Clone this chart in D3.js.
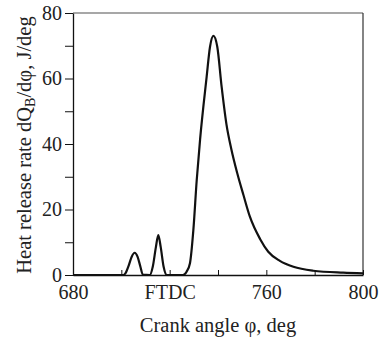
<!DOCTYPE html>
<html>
<head>
<meta charset="utf-8">
<script src="https://cdn.jsdelivr.net/npm/d3@7"></script>
<style>
  body { margin: 0; background: #fff; }
  text { font-family: "Liberation Serif", "DejaVu Serif", serif; fill: #222; }
</style>
</head>
<body>
<div id="chart"></div>
<script>
// crank angle (deg) and heat release rate (J/deg)
const angle = [680, 700.8, 701.6, 703, 704.3, 705.5, 706.7, 707.8, 708.9,
  711.8, 713, 714.3, 715.3, 716.3, 717.5, 718.8,
  725.5, 727, 728.4, 729.8, 731.2, 732.6, 735.3, 736.7, 738.1, 739.7, 741.5,
  743.5, 745.5, 748, 750.5, 753.2, 757.4, 760.8, 765.6, 771.2, 779.4, 791.8, 800];
const hrr = [0, 0, 0.4, 2.8, 5.6, 6.8, 5.6, 2.8, 0.1,
  0, 2.5, 8.5, 12.2, 8.5, 2.5, 0,
  0, 1.0, 3.6, 13.7, 29, 41.5, 60.5, 69.7, 73, 69.7, 57.5,
  46, 38.5, 31, 24.5, 17.8, 11, 7.1, 4.3, 2.5, 1.3, 0.7, 0.5];

const xTicks = [680, 700, 720, 740, 760, 780, 800];
const xTickLabels = ["680", "", "FTDC", "", "760", "", "800"];
const yTicks = [0, 10, 20, 30, 40, 50, 60, 70, 80];
const yTickLabels = ["0", "", "20", "", "40", "", "60", "", "80"];

const W = 380, H = 337;
const margin = {top: 13, right: 17, bottom: 62, left: 73};
const width = W - margin.left - margin.right,
  height = H - margin.top - margin.bottom;

const svg = d3.select("#chart").append("svg")
  .attr("width", W)
  .attr("height", H);

const g = svg.append("g")
  .attr("transform", "translate(" + margin.left + "," + margin.top + ")");

const x = d3.scaleLinear().domain([680, 800]).range([0, width]);
const y = d3.scaleLinear().domain([0, 80]).range([height, 0]);

// frame: grey top, dark right
g.append("line")
  .attr("x1", 0).attr("x2", width).attr("y1", 0).attr("y2", 0)
  .attr("stroke", "#8a8a8a").attr("stroke-width", 1.5);
g.append("line")
  .attr("x1", width).attr("x2", width).attr("y1", 0).attr("y2", height)
  .attr("stroke", "#333").attr("stroke-width", 1.2);

const xAxis = g.append("g")
  .attr("transform", "translate(0," + height + ")")
  .call(d3.axisBottom(x)
    .tickValues(xTicks)
    .tickSizeInner(-5)
    .tickSizeOuter(0)
    .tickPadding(10)
    .tickFormat((d, i) => xTickLabels[i]));

const yAxis = g.append("g")
  .call(d3.axisLeft(y)
    .tickValues(yTicks)
    .tickSizeInner(8)
    .tickSizeOuter(0)
    .tickPadding(3)
    .tickFormat((d, i) => yTickLabels[i]));

[xAxis, yAxis].forEach(a => {
  a.select(".domain").attr("stroke", "#111").attr("stroke-width", 1.3);
  a.selectAll(".tick line").attr("stroke", "#111").attr("stroke-width", 1);
  a.selectAll(".tick text")
    .style("font-family", "'Liberation Serif', serif")
    .style("font-size", "20px")
    .attr("fill", "#222");
});

const line = d3.line()
  .x((d, i) => x(angle[i]))
  .y(d => y(d))
  .curve(d3.curveMonotoneX);

g.append("path")
  .datum(hrr)
  .attr("fill", "none")
  .attr("stroke", "#111")
  .attr("stroke-width", 2.2)
  .attr("stroke-linejoin", "round")
  .attr("d", line);

// axis titles
svg.append("text")
  .attr("x", margin.left + width / 2)
  .attr("y", 332)
  .attr("text-anchor", "middle")
  .style("font-size", "20.5px")
  .text("Crank angle \u03c6, deg");

const yt = svg.append("text")
  .attr("transform", "translate(31," + (margin.top + height / 2 + 1) + ") rotate(-90)")
  .attr("text-anchor", "middle")
  .style("font-size", "20.5px");
yt.append("tspan").text("Heat release rate dQ");
yt.append("tspan").attr("dy", 4).style("font-size", "14px").text("B");
yt.append("tspan").attr("dy", -4).text("/d\u03c6, J/deg");
</script>
</body>
</html>
